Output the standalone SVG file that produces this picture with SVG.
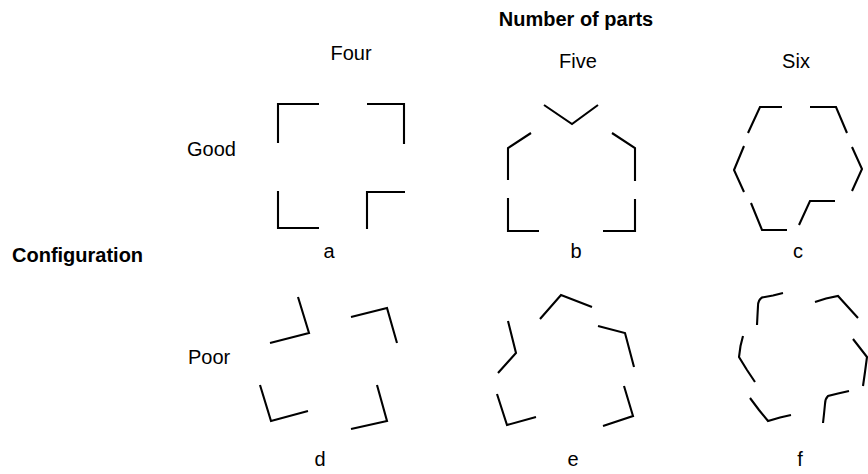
<svg xmlns="http://www.w3.org/2000/svg" width="868" height="474" viewBox="0 0 868 474">
<style>
  .t { font-family: "Liberation Sans", Arial, sans-serif; font-size: 20px; fill: #000; }
  .b { font-weight: bold; }
  .m { text-anchor: middle; }
  .p { fill: none; stroke: #000; stroke-width: 2.1; stroke-linecap: butt; stroke-linejoin: miter; }
</style>
<rect width="868" height="474" fill="#fff"/>
<g id="headings">
  <text class="t b m" x="576" y="26">Number of parts</text>
  <text class="t m" x="351" y="60">Four</text>
  <text class="t m" x="578" y="68">Five</text>
  <text class="t m" x="796" y="68">Six</text>
  <text class="t" x="187" y="156">Good</text>
  <text class="t b" x="12" y="262">Configuration</text>
  <text class="t" x="188" y="364">Poor</text>
</g>
<g id="fig-a">
  <path class="p" d="M278,143 V104 H319 M367,104 H404 V144 M278,191 V228 H319 M367,229 V192 H405"/>
  <text class="t m" x="329" y="258">a</text>
</g>
<g id="fig-b">
  <path class="p" d="M544,105 L572,124 L598,105 M531,133 L508,148 V180 M612,133 L635,148 V181 M508,198 V231 H539 M603,231 H635 V199"/>
  <text class="t m" x="576" y="258">b</text>
</g>
<g id="fig-c">
  <path class="p" d="M748,133 L760,107 H782 M810,107 H836 L847,133 M744,146 L734,170 L744,192 M852,147 L862,169 L852,191 M751,203 L762,230 H787 M799,225 L810,201 H835"/>
  <text class="t m" x="798" y="258">c</text>
</g>
<g id="fig-d">
  <path class="p" d="M298,297 L309,333 L270,343 M351,317 L387,308 L397,343 M260,385 L271,421 L308,411 M377,385 L387,421 L351,429"/>
  <text class="t m" x="320" y="466">d</text>
</g>
<g id="fig-e">
  <path class="p" d="M540,319 L561,295 L592,307 M508,321 L516,353 L498,373 M598,326 L625,333 L634,367 M497,394 L507,425 L536,417 M624,386 L633,416 L603,426"/>
  <text class="t m" x="573" y="466">e</text>
</g>
<g id="fig-f">
  <path class="p" d="M783,293 L773,295.5 L762,297.5 Q758,300 758,306 L757.5,315 L757,325 M815,302 L826,298.5 L838,296 L848,307 L858,318 M743,336 L740.5,346 L739,357 L747,370 L755,382 M853,339 L860,348 L867,357 L865,372 L863,386 M750,398 L759,410 L768,421 L780,417.5 L791,415 M849,391 L838,393.5 L828,396 Q825,399 825,404 L824,414 L823,423"/>
  <text class="t m" x="800" y="466">f</text>
</g>
</svg>
